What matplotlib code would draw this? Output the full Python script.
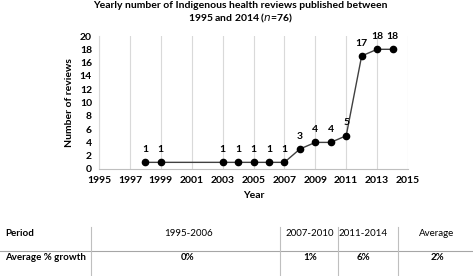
import numpy as np
import matplotlib
matplotlib.use('Agg')
import matplotlib.pyplot as plt
from matplotlib.lines import Line2D

plt.rcParams['font.family'] = ['Lato', 'DejaVu Sans']

years = [1998, 1999, 2003, 2004, 2005, 2006, 2007, 2008, 2009, 2010, 2011, 2012, 2013, 2014]
reviews = [1, 1, 1, 1, 1, 1, 1, 3, 4, 4, 5, 17, 18, 18]
xticks = list(range(1995, 2016, 2))
yticks = list(range(0, 21, 2))

periods = ['1995-2006', '2007-2010', '2011-2014', 'Average']
growth = ['0%', '1%', '6%', '2%']

W, H = 473, 276
fig = plt.figure(figsize=(W / 100, H / 100), dpi=100)
ax = fig.add_axes([99 / W, (H - 169) / H, (408 - 99) / W, (169 - 36) / H])

ax.plot(years, reviews, color='#404040', linewidth=1.0, marker='o',
        markersize=4.5, markerfacecolor='black', markeredgecolor='black', zorder=3)
for x, y in zip(years, reviews):
    ax.annotate(str(y), (x, y), xytext=(0, 6), textcoords='offset points',
                ha='center', va='bottom', fontsize=7.5, fontweight='bold')

ax.set_xlim(1995, 2015)
ax.set_ylim(0, 20)
ax.set_xticks(xticks)
ax.set_yticks(yticks)
ax.tick_params(length=0, labelsize=7.5, pad=5)
for lab in ax.get_xticklabels() + ax.get_yticklabels():
    lab.set_fontweight('bold')
ax.grid(axis='x', color='#d9d9d9', linewidth=0.8)
for s in ['top', 'right']:
    ax.spines[s].set_visible(False)
ax.spines['left'].set_color('#d9d9d9')
ax.spines['bottom'].set_color('#bfbfbf')
ax.set_xlabel('Year', fontsize=7.5, fontweight='bold', labelpad=4)
ax.set_ylabel('Number of reviews', fontsize=7.5, fontweight='bold', labelpad=4)

fig.text(240 / W, 1 - 6 / H, 'Yearly number of Indigenous health reviews published between',
         ha='center', va='center', fontsize=7.5, fontweight='bold')
fig.text(240 / W, 1 - 18 / H, '1995 and 2014 ($\\it{n}$=76)',
         ha='center', va='center', fontsize=7.5, fontweight='bold')

# table below the chart
def fx(px):
    return px / W

def fy(py):
    return 1 - py / H

fig.add_artist(Line2D([0, 1], [fy(251), fy(251)], color='#a6a6a6', linewidth=0.8))
for vx in [91, 280, 338, 398]:
    fig.add_artist(Line2D([fx(vx), fx(vx)], [fy(227), fy(276)], color='#bfbfbf', linewidth=0.8))

fig.text(fx(5), fy(233), 'Period', ha='left', va='center', fontsize=7, fontweight='bold')
fig.text(fx(5), fy(258), 'Average % growth', ha='left', va='center', fontsize=7, fontweight='bold')
col_x = [188, 310, 363, 437]
for cx, p, g in zip(col_x, periods, growth):
    fig.text(fx(cx), fy(233), p, ha='center', va='center', fontsize=7)
    fig.text(fx(cx), fy(258), g, ha='center', va='center', fontsize=7, fontweight='bold')

fig.savefig('out.png', dpi=100)
